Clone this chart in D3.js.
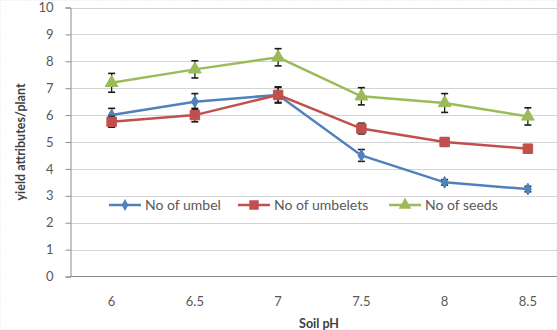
<!DOCTYPE html>
<html><head><meta charset="utf-8">
<script src="https://cdn.jsdelivr.net/npm/d3@7"></script>
<style>body{margin:0;background:#fff}svg{display:block}text{font-family:Lato,"Open Sans",sans-serif}</style>
</head><body><svg id="c" width="557" height="330"></svg>
<script>
const categories = ["6","6.5","7","7.5","8","8.5"];
const umbel = [6.0, 6.5, 6.75, 4.5, 3.5, 3.25];
const umbelErr = [0.25, 0.3, 0.3, 0.22, 0.1, 0.1];
const umbelets = [5.75, 6.0, 6.75, 5.5, 5.0, 4.75];
const umbeletsErr = [0.2, 0.25, 0.28, 0.2, 0.15, 0.15];
const seeds = [7.2, 7.7, 8.15, 6.7, 6.45, 5.95];
const seedsErr = [0.35, 0.32, 0.32, 0.32, 0.35, 0.32];
const yTicks = [0,1,2,3,4,5,6,7,8,9,10];

const series = [
  {name:"No of umbel", values:umbel, err:umbelErr, color:"#4F81BD", marker:"diamond"},
  {name:"No of umbelets", values:umbelets, err:umbeletsErr, color:"#C0504D", marker:"square"},
  {name:"No of seeds", values:seeds, err:seedsErr, color:"#9BBB59", marker:"triangle"}
];

const svg = d3.select("#c");
const x = d3.scaleBand().domain(categories).range([70, 569.5]);
const y = d3.scaleLinear().domain([0,10]).range([276.5, 7.5]);
const cx = c => x(c) + x.bandwidth()/2;

svg.append("rect").attr("x",0.5).attr("y",0.5).attr("width",556).attr("height",329)
  .attr("fill","none").attr("stroke","#e6e6e6").attr("stroke-dasharray","1,2");

// gridlines
svg.append("g").selectAll("line").data(yTicks.filter(d=>d>0)).join("line")
  .attr("x1",70).attr("x2",557).attr("y1",d=>Math.round(y(d))+0.5).attr("y2",d=>Math.round(y(d))+0.5)
  .attr("stroke","#d4d4d4").attr("stroke-width",1.2);

// y axis
const ya = svg.append("g").attr("transform","translate(70.5,0)")
  .call(d3.axisLeft(y).tickValues(yTicks).tickSize(5).tickPadding(12).tickFormat(d3.format("d")));
ya.select(".domain").attr("stroke","#8c8c8c");
ya.selectAll(".tick line").attr("stroke","#8c8c8c");
ya.selectAll(".tick text").attr("fill","#595959").attr("font-size",13);

// x axis
const xa = svg.append("g").attr("transform","translate(0,276.5)")
  .call(d3.axisBottom(x).tickSize(0).tickPadding(20));
xa.select(".domain").attr("stroke","#8c8c8c").attr("d","M70,0H557");
xa.selectAll(".tick text").attr("fill","#595959").attr("font-size",13);

// titles
svg.append("text").attr("transform","translate(25,142) rotate(-90)").attr("text-anchor","middle")
  .attr("font-size",12.5).attr("font-weight","bold").attr("fill","#404040").text("yield attributes/plant");
svg.append("text").attr("x",319).attr("y",328).attr("text-anchor","middle")
  .attr("font-size",12.5).attr("font-weight","bold").attr("fill","#404040").text("Soil pH");

function markerPath(type){
  if(type==="diamond") return d3.symbol(d3.symbolDiamond, 40)();
  if(type==="square") return d3.symbol(d3.symbolSquare, 90)();
  return d3.symbol(d3.symbolTriangle, 70)();
}

const line = d3.line().x((d,i)=>cx(categories[i])).y(d=>y(d));
series.forEach(s=>{
  const g = svg.append("g");
  g.append("path").datum(s.values).attr("d",line).attr("fill","none")
    .attr("stroke",s.color).attr("stroke-width",2.5);
  // error bars
  const eb = g.selectAll("g.eb").data(s.values.map((v,i)=>({v,e:s.err[i],c:categories[i]}))).join("g");
  eb.append("line").attr("x1",d=>cx(d.c)).attr("x2",d=>cx(d.c)).attr("y1",d=>y(d.v+d.e)).attr("y2",d=>y(d.v-d.e))
    .attr("stroke","#1a1a1a").attr("stroke-width",1.3);
  eb.append("line").attr("x1",d=>cx(d.c)-3.5).attr("x2",d=>cx(d.c)+3.5).attr("y1",d=>y(d.v+d.e)).attr("y2",d=>y(d.v+d.e))
    .attr("stroke","#1a1a1a").attr("stroke-width",1.6);
  eb.append("line").attr("x1",d=>cx(d.c)-3.5).attr("x2",d=>cx(d.c)+3.5).attr("y1",d=>y(d.v-d.e)).attr("y2",d=>y(d.v-d.e))
    .attr("stroke","#1a1a1a").attr("stroke-width",1.6);
  g.selectAll("path.m").data(s.values).join("path").attr("class","m")
    .attr("d",markerPath(s.marker)).attr("transform",(d,i)=>`translate(${cx(categories[i])},${y(d)})`)
    .attr("fill",s.color).attr("stroke",s.color);
});

// legend
const legX = [109, 238, 389];
const leg = svg.append("g");
series.forEach((s,i)=>{
  const lg = leg.append("g").attr("transform",`translate(${legX[i]},205)`);
  lg.append("line").attr("x1",0).attr("x2",32).attr("y1",0).attr("y2",0).attr("stroke",s.color).attr("stroke-width",2.5);
  lg.append("path").attr("d",markerPath(s.marker)).attr("transform","translate(16,0)").attr("fill",s.color);
  lg.append("text").attr("x",36).attr("y",4.5).attr("font-size",14).attr("fill","#595959").text(s.name);
});
</script></body></html>
